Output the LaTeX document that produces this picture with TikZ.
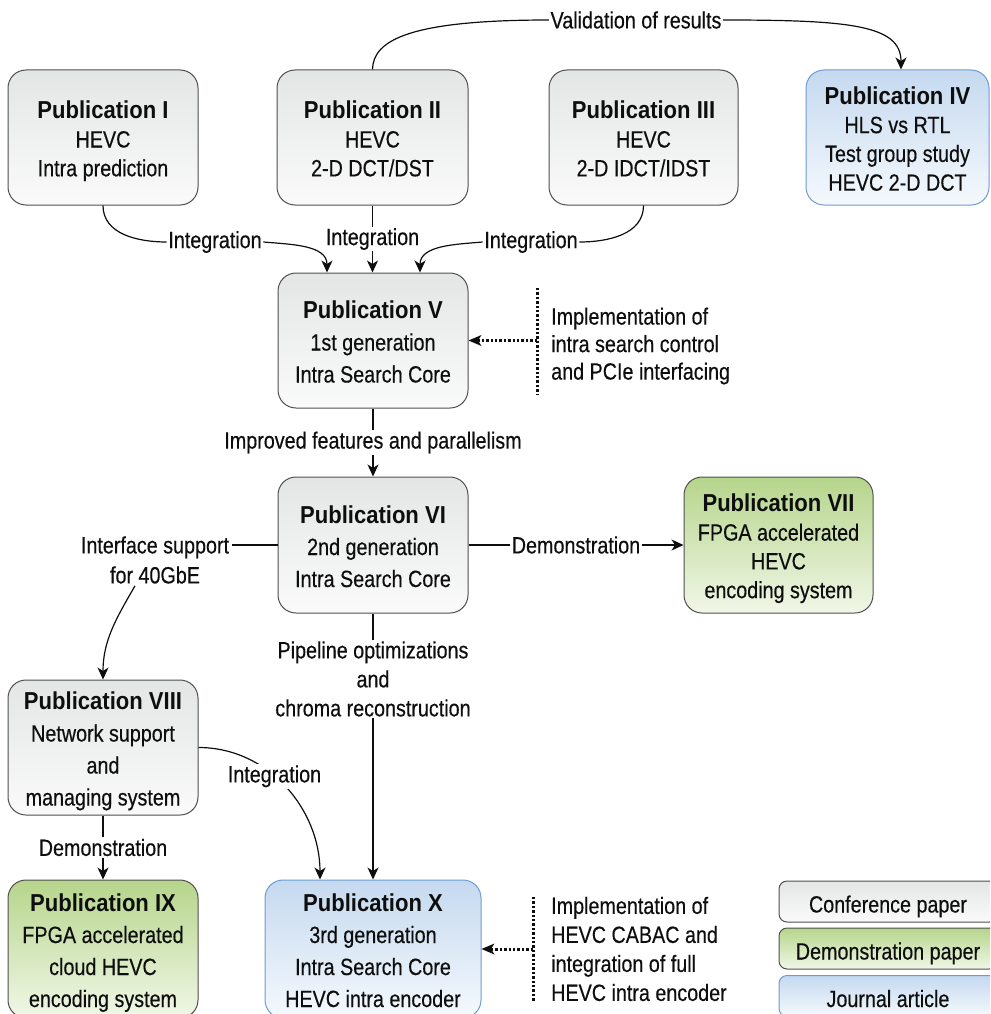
\documentclass[tikz,border=0pt]{standalone}
\usepackage{fontspec}
\setmainfont{Liberation Sans}[FakeStretch=0.84, FakeBold=0.35]
\newfontfamily\headfont{Liberation Sans}[FakeStretch=0.9]
\usetikzlibrary{arrows.meta}

\definecolor{ink}{HTML}{0E0E0E}
\definecolor{boxline}{HTML}{4F4F4F}
\definecolor{confTop}{HTML}{E4E6E6}
\definecolor{confBot}{HTML}{FAFAFA}
\definecolor{demoTop}{HTML}{B6D58B}
\definecolor{demoBot}{HTML}{F1F7E8}
\definecolor{jourTop}{HTML}{C5D9EF}
\definecolor{jourBot}{HTML}{F5F9FD}
\definecolor{jourLine}{HTML}{6E9CD0}

% bold heading line of a publication box, with a fixed top strut
\newcommand{\pubhead}[1]{\rule{0pt}{28pt}{\headfont\bfseries\fontsize{24.5}{29}\selectfont #1}}
% fixed depth for the last line of a publication box
\newcommand{\pubend}{\rule[-8pt]{0pt}{8pt}}

\tikzset{
  x=1pt, y=1pt,
  pub/.style={draw=boxline, line width=1pt, rounded corners=18pt,
    minimum width=190pt, minimum height=135pt, align=center,
    inner sep=0pt, text=ink},
  tight/.style={font=\fontsize{23.5}{28.8}\selectfont},
  loose/.style={font=\fontsize{23.5}{32}\selectfont},
  conf/.style={pub, top color=confTop, bottom color=confBot},
  demo/.style={pub, top color=demoTop, bottom color=demoBot},
  jour/.style={pub, draw=jourLine, top color=jourTop, bottom color=jourBot},
  legendbox/.style={rounded corners=8pt, minimum width=218pt,
    minimum height=41pt, text height=22pt, text depth=0pt,
    font=\fontsize{23.5}{28}\selectfont},
  lbl/.style={fill=white, inner sep=1.5pt, text=ink,
    font=\fontsize{23.5}{29}\selectfont},
  note/.style={anchor=west, align=left, inner sep=0pt, text=ink},
  conn/.style={draw=ink, line width=1.2pt},
  arr/.style={conn, -{Stealth[length=12pt, width=11pt, inset=3.5pt]}},
  dots/.style={draw=ink, line width=3pt, dash pattern=on 2.4pt off 2pt},
  dotarr/.style={dots, -{Stealth[length=13pt, width=11pt, inset=3.5pt, line width=0pt]}},
}

\begin{document}
\begin{tikzpicture}
\useasboundingbox (0,0) rectangle (990,-1014);
\clip (0,0) rectangle (990,-1014);

% publication boxes
\node[conf, tight] (p1) at (103,-137.5) {\pubhead{Publication I}\\HEVC\\Intra prediction\pubend};
\node[conf, tight, minimum width=191pt] (p2) at (372.5,-137.5) {\pubhead{Publication II}\\HEVC\\2-D DCT/DST\pubend};
\node[conf, tight, minimum width=189pt] (p3) at (643.5,-137.5) {\pubhead{Publication III}\\HEVC\\2-D IDCT/IDST\pubend};
\node[jour, tight, minimum width=183pt] (p4) at (897.5,-137.5) {\pubhead{Publication IV}\\HLS vs RTL\\Test group study\\HEVC 2-D DCT\pubend};
\node[conf, loose] (p5) at (373,-340.5) {\pubhead{Publication V}\\1st generation\\Intra Search Core\pubend};
\node[conf, loose, minimum height=136pt] (p6) at (373,-545) {\pubhead{Publication VI}\\2nd generation\\Intra Search Core\pubend};
\node[demo, tight, minimum width=189pt, minimum height=136pt] (p7) at (778.5,-545) {\pubhead{Publication VII}\\FPGA accelerated\\HEVC\\encoding system\pubend};
\node[conf, loose] (p8) at (103,-747.5) {\pubhead{Publication VIII}\\Network support\\and\\managing system\pubend};
\node[demo, loose, minimum height=138pt] (p9) at (103,-949) {\pubhead{Publication IX}\\FPGA accelerated\\cloud HEVC\\encoding system\pubend};
\node[jour, loose, minimum width=216pt, minimum height=138pt] (p10) at (373,-949) {\pubhead{Publication X}\\3rd generation\\Intra Search Core\\HEVC intra encoder\pubend};

% legend
\node[conf, legendbox] (lc) at (888,-901.5) {Conference paper};
\node[demo, legendbox] (ld) at (888,-948.5) {Demonstration paper};
\node[jour, legendbox] (lj) at (888,-996) {Journal article};

% validation link across the top
\node[lbl] (val) at (636,-20) {Validation of results};
\draw[conn] (p2.north) .. controls (373,-40) and (410,-20) .. (val.west);
\draw[arr] (val.east) .. controls (850,-20) and (901,-25) .. ([xshift=3.5pt]p4.north);

% integrations into the first core
\node[lbl] (i1) at (215,-242) {Integration};
\node[lbl] (i3) at (531,-242) {Integration};
\draw[conn] (p1.south) to[out=-90, in=180] (i1.west);
\draw[arr] (i1.east) to[out=-5, in=90] ([xshift=-46pt]p5.north);
\draw[arr] (p2.south) -- node[lbl] {Integration} (p2.south |- p5.north);
\draw[conn] (p3.south) to[out=-90, in=0] (i3.east);
\draw[arr] (i3.west) to[out=185, in=90] ([xshift=47pt]p5.north);

% search control note
\node[note, font=\fontsize{23.5}{27.5}\selectfont] (n1) at (551,-346) {Implementation of\\intra search control\\and PCIe interfacing};
\coordinate (d1a) at (537,-288);
\coordinate (d1b) at (537,-394);
\draw[dots] (d1a) -- (d1b);
\draw[dotarr] (d1a |- p5.east) -- (p5.east);

% core generations
\draw[arr] (p5.south) -- node[lbl] {Improved features and parallelism} (p6.north);
\draw[arr] (p6.east) -- node[lbl] {Demonstration} (p7.west);
\draw[arr] (p6.south) -- node[lbl, pos=0.246, align=center] {Pipeline optimizations\\and\\chroma reconstruction} (p10.north);

% network support branch
\node[lbl, align=center, inner sep=2pt, font=\fontsize{23.5}{30}\selectfont] (ifc) at (155,-560) {Interface support\\for 40GbE};
\draw[conn] (p6.west) -- ([xshift=1pt]p6.west -| ifc.east);
\draw[arr] ([xshift=-20pt]ifc.south) to[out=-120, in=90] (p8.north);
\draw[arr] (p8.east) to[out=0, in=90] node[lbl, pos=0.42] {Integration} ([xshift=-53pt]p10.north);
\draw[arr] (p8.south) -- node[lbl] {Demonstration} (p9.north);

% encoder note
\node[note, font=\fontsize{23.5}{29}\selectfont] (n2) at (551,-949) {Implementation of\\HEVC CABAC and\\integration of full\\HEVC intra encoder};
\coordinate (d2a) at (533,-897);
\coordinate (d2b) at (533,-1002);
\draw[dots] (d2a) -- (d2b);
\draw[dotarr] (d2a |- p10.east) -- (p10.east);
\end{tikzpicture}
\end{document}
